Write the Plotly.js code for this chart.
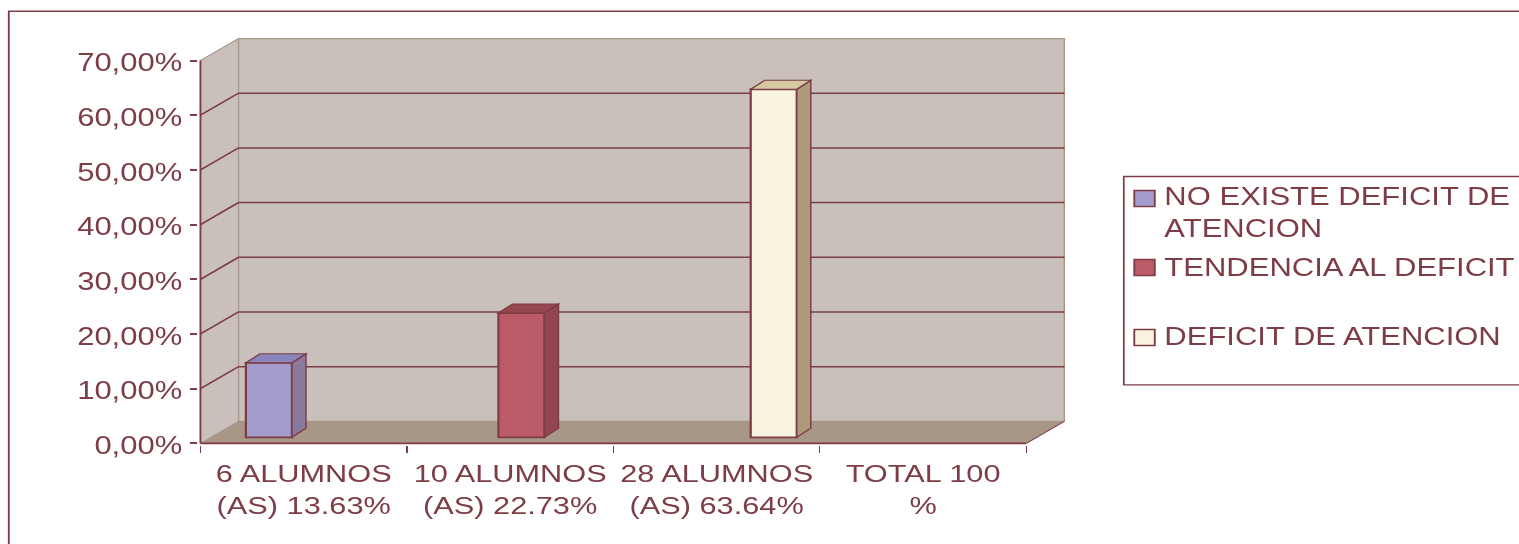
<!DOCTYPE html>
<html>
<head>
<meta charset="utf-8">
<script src="https://cdn.plot.ly/plotly-3.0.1.min.js"></script>
<style>
html,body{margin:0;padding:0;background:#fff;overflow:hidden;width:1519px;height:544px}
#chart{width:1225px;height:544px;transform:scaleX(1.24);transform-origin:0 0;filter:blur(0.35px)}
</style>
</head>
<body>
<div id="chart"></div>
<script>
const categories = ["6 ALUMNOS<br>(AS) 13.63%","10 ALUMNOS<br>(AS) 22.73%","28 ALUMNOS<br>(AS) 63.64%","TOTAL 100<br>%"];
const seriesNames = ["NO EXISTE DEFICIT DE<br>ATENCION","TENDENCIA AL DEFICIT","DEFICIT DE ATENCION"];
const valuesNoDeficit = [13.63,null,null,null];
const valuesTendencia = [null,22.73,null,null];
const valuesDeficit = [null,null,63.64,null];
const yTickVals = [0,10,20,30,40,50,60,70];
const yTickText = ["0,00%","10,00%","20,00%","30,00%","40,00%","50,00%","60,00%","70,00%"];

const maroon = "#7d3c46", wall = "#c9c0bb", wallEdge = "#a99a8c", floor = "#a89686";
const frontColors = ["#a39dcb","#bd5a68","#f8f4e0"];
const sideColors = ["#897a9e","#93464f","#ae9a78"];
const topColors = ["#8a85bd","#96464f","#d6c8a0"];
const allValues = [valuesNoDeficit,valuesTendencia,valuesDeficit];

// geometry of the pseudo-3D box, in axis units
const barOffsets = [-0.28,-0.057,0.165], barWidth = 0.223, barBase = 1.1;
const barDx = 0.068, barDy = 1.65, wallDx = 0.184, wallDy = 4.02;
const xMin = -0.5, xMax = 3.5, yMax = 70;
const xRange = [-0.51, 3.70], yRange = [-0.3, 74.3];

const poly = (pts) => "M" + pts.map(p => p[0] + "," + p[1]).join("L") + "Z";
const open = (pts) => "M" + pts.map(p => p[0] + "," + p[1]).join("L");
const shapes = [];
const dataShape = (path, fill, line, width, layer) => shapes.push({type:"path",xref:"x",yref:"y",path,fillcolor:fill||"rgba(0,0,0,0)",line:{color:line,width:line?width:0},layer});

// walls and floor
dataShape(poly([[xMin+wallDx,wallDy],[xMax+wallDx,wallDy],[xMax+wallDx,yMax+wallDy],[xMin+wallDx,yMax+wallDy]]),wall,wallEdge,1.2,"below");
dataShape(poly([[xMin,0],[xMin+wallDx,wallDy],[xMin+wallDx,yMax+wallDy],[xMin,yMax]]),wall,wallEdge,1,"below");
dataShape(poly([[xMin,0],[xMax,0],[xMax+wallDx,wallDy],[xMin+wallDx,wallDy]]),floor,null,0,"below");
// gridlines across left wall and back wall
yTickVals.slice(1,-1).forEach(v => dataShape(open([[xMin,v],[xMin+wallDx,v+wallDy],[xMax+wallDx,v+wallDy]]),null,maroon,1.5,"below"));
// axis lines
dataShape(open([[xMin,0],[xMin,yMax]]),null,maroon,1.5,"below");
dataShape(open([[xMin,0],[xMax,0]]),null,maroon,1.6,"below");
dataShape(open([[xMax,0],[xMax+wallDx,wallDy]]),null,maroon,1,"below");

// bar side and top faces, derived from the values
const traces = allValues.map((vals,s) => ({
  type:"bar", name:seriesNames[s].replace("<br>"," "), x:categories, y:vals,
  base:barBase, width:barWidth, offset:barOffsets[s],
  marker:{color:frontColors[s],line:{color:maroon,width:1.8}},
  showlegend:false, hoverinfo:"x+y"
}));
allValues.forEach((vals,s) => vals.forEach((v,i) => {
  if (v === null) return;
  const x0 = i + barOffsets[s], x1 = x0 + barWidth, top = barBase + v;
  dataShape(poly([[x1,barBase],[x1+barDx,barBase+barDy],[x1+barDx,top+barDy],[x1,top]]),sideColors[s],maroon,1.2,"above");
  dataShape(poly([[x0,top],[x0+barDx,top+barDy],[x1+barDx,top+barDy],[x1,top]]),topColors[s],maroon,1.2,"above");
}));

// position helpers for reference-pixel placement of frame & legend
const px = x => (x-197.94)/869.4, py = y => (444.64-y)/408.1;
const paperShape = (o) => shapes.push(Object.assign({xref:"paper",yref:"paper",layer:"above"},o));
paperShape({type:"path",path:open([[px(8.3),py(560)],[px(8.3),py(10.8)],[px(1560),py(10.8)]]),line:{color:maroon,width:1.5}});
paperShape({type:"path",path:open([[px(1560),py(384.5)],[px(1123.5),py(384.5)],[px(1123.5),py(176)],[px(1560),py(176)]]),line:{color:maroon,width:1.4}});
const swatchTops = [190,259,329], labelY = [212.5,267,336];
const annotations = seriesNames.map((n,s) => {
  paperShape({type:"rect",x0:px(1134),x1:px(1154.5),y0:py(swatchTops[s]),y1:py(swatchTops[s]+16),fillcolor:frontColors[s],line:{color:maroon,width:1.5}});
  return {xref:"paper",yref:"paper",x:px(1161),y:py(labelY[s]),xanchor:"left",yanchor:"middle",align:"left",showarrow:false,text:n,
    font:{family:"Liberation Sans",size:25,color:maroon}};
});

const layout = {
  width:1225, height:544,
  margin:{l:197.94/1.24,r:(1519-1067.34)/1.24,t:36.54,b:99.36,pad:0},
  paper_bgcolor:"#fff", plot_bgcolor:"rgba(0,0,0,0)",
  barmode:"overlay", showlegend:false,
  font:{family:"Liberation Sans",size:25,color:maroon},
  xaxis:{type:"category",range:xRange,fixedrange:true,tickson:"boundaries",ticks:"outside",ticklen:7,tickwidth:1,tickcolor:maroon,ticklabelstandoff:11,ticklabelshift:-1.5,
    showgrid:false,zeroline:false,showline:false,tickangle:0,automargin:false,tickfont:{family:"Liberation Sans",size:24.8,color:maroon},categoryorder:"array",categoryarray:categories},
  yaxis:{range:yRange,fixedrange:true,tickmode:"array",tickvals:yTickVals,ticktext:yTickText,ticks:"outside",ticklen:6,tickwidth:1.5,tickcolor:maroon,ticklabelstandoff:1,ticklabelshift:2,
    showgrid:false,zeroline:false,showline:false,automargin:false,tickfont:{family:"Liberation Sans",size:25,color:maroon}},
  shapes, annotations
};
Plotly.newPlot("chart",traces,layout,{displayModeBar:false,responsive:false});
</script>
</body>
</html>
